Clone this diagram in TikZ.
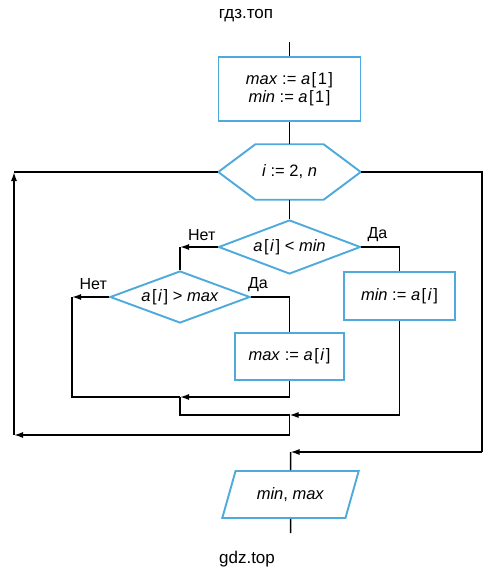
\documentclass[tikz,border=0pt]{standalone}
\usepackage{fontspec}
\setmainfont{Liberation Sans}
\usetikzlibrary{arrows.meta, positioning, shapes.geometric}
\definecolor{blockblue}{RGB}{77,170,219}
\newcommand{\idx}[1]{\hspace{1.5pt}[\hspace{1.5pt}#1\hspace{1.5pt}]}

\begin{document}
\begin{tikzpicture}[x=1pt, y=-1pt,
  block/.style={draw=blockblue, line width=1.9pt, font=\fontsize{16.5}{18}\selectfont, align=center, inner sep=0pt},
  flow/.style={line width=1.5pt, black},
  arr/.style={flow, -{Latex[length=9pt, width=6pt]}},
  lbl/.style={font=\fontsize{16}{19}\selectfont, inner sep=0pt}
]

\useasboundingbox (0,0) rectangle (495,580);

% Header and footer
\node[font=\fontsize{17}{20}\selectfont] (head) at (246,16) {гдз.топ};
\node[font=\fontsize{17}{20}\selectfont] (foot) at (247,559) {gdz.top};

% Blocks
\node[block, minimum width=142pt, minimum height=64pt] (init) at (289.5,89) {\textit{max} := \textit{a}\idx{1}\\ \textit{min} := \textit{a}\idx{1}};

\node[minimum width=142pt, minimum height=55pt, inner sep=0pt, font=\fontsize{16.5}{18}\selectfont] (loop) at (289.5,172) {\textit{i} := 2, \textit{n}};
\draw[block] (loop.west) -- ([xshift=37pt]loop.north west) -- ([xshift=-37pt]loop.north east)
  -- (loop.east) -- ([xshift=-37pt]loop.south east) -- ([xshift=37pt]loop.south west) -- cycle;

\node[block, diamond, aspect=2.6, minimum width=142pt, minimum height=54pt] (cmin) at (289.5,247) {\textit{a}\idx{\textit{i}} < \textit{min}};
\node[block, diamond, aspect=2.6, minimum width=140pt, minimum height=52pt] (cmax) at (180,297) {\textit{a}\idx{\textit{i}} > \textit{max}};

\node[block, minimum width=111pt, minimum height=48pt] (setmin) at (399.5,296) {\textit{min} := \textit{a}\idx{\textit{i}}};
\node[block, minimum width=109pt, minimum height=47pt] (setmax) at (289.5,356.5) {\textit{max} := \textit{a}\idx{\textit{i}}};

\node[block, trapezium, trapezium left angle=60, trapezium right angle=120, trapezium stretches=true,
  minimum width=137pt, minimum height=47pt] (out) at (290.5,494.5) {\textit{min}, \textit{max}};

% Branch labels
\node[lbl, above left=6pt and 2pt of cmin.west] (no1) {Нет};
\node[lbl, above right=5pt and 6pt of cmin.east] (yes1) {Да};
\node[lbl, above left=7pt and 2pt of cmax.west] (no2) {Нет};
\node[lbl, above right=5pt and -3pt of cmax.east] (yes2) {Да};

% Corner points
\coordinate (entry) at (289.5,42);
\coordinate (exit) at (290.5,533);
\coordinate (nomax) at (72,397);
\coordinate (join1) at (180,397);
\coordinate (join2) at (289.5,415);
\coordinate (backbot) at (14,435);
\coordinate (backtop) at (14,172);
\coordinate (endright) at (482,452);
\coordinate (join3) at (290.5,452);

% Connectors
\draw[flow] (entry) -- (init);
\draw[flow] (init) -- (loop);
\draw[flow] (loop) -- (cmin);

\draw[arr] (cmin.west) -- (cmin.west -| cmax.north);
\draw[flow] (cmin.west -| cmax.north) -- (cmax.north);
\draw[flow] (cmin.east) -| (setmin.north);

\draw[arr] (cmax.west) -- (cmax.west -| nomax);
\draw[flow] (cmax.west -| nomax) -- (nomax) -- (join1);
\draw[flow] (cmax.east) -| (setmax.north);

\draw[arr] (setmax.south) |- (join1);
\draw[flow] (join1) |- (join2);
\draw[arr] (setmin.south) |- (join2);

\draw[arr] (join2) |- (backbot);
\draw[arr] (backbot) -- (backtop);
\draw[flow] (backtop) -- (loop.west);

\draw[flow] (loop.east) -| (endright);
\draw[arr] (endright) -- (join3);
\draw[flow] (join3) -- (out.north);
\draw[flow] (out.south) -- (exit);

\end{tikzpicture}
\end{document}
